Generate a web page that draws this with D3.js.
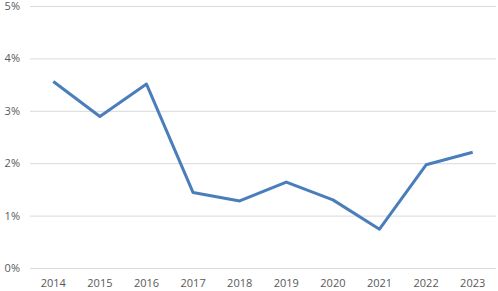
<!DOCTYPE html>
<html>
<head>
<meta charset="utf-8">
<script src="https://cdn.jsdelivr.net/npm/d3@7"></script>
<style>
  body { margin: 0; background: #fff; }
  text { font-family: "Open Sans", "Liberation Sans", sans-serif; fill: #595959; }
</style>
</head>
<body>
<div id="chart"></div>
<script>
// Chart data
const years = ['2014', '2015', '2016', '2017', '2018', '2019', '2020', '2021', '2022', '2023'];
const rates = [3.56, 2.89, 3.51, 1.44, 1.28, 1.64, 1.30, 0.74, 1.97, 2.21];
const yTicks = [0, 1, 2, 3, 4, 5];

const width = 498;
const height = 291;
const margin = { top: 6, right: 2, bottom: 23, left: 30 };

const svg = d3.select('#chart')
  .append('svg')
  .attr('width', width)
  .attr('height', height);

const x = d3.scaleBand()
  .domain(years)
  .range([margin.left, width - margin.right]);

const y = d3.scaleLinear()
  .domain([0, 5])
  .range([height - margin.bottom, margin.top]);

// Gridlines + y labels
const yAxis = d3.axisLeft(y)
  .tickValues(yTicks)
  .tickSize(-(width - margin.left - margin.right))
  .tickPadding(10)
  .tickFormat(d => d + '%');

svg.append('g')
  .attr('transform', `translate(${margin.left},0)`)
  .call(yAxis)
  .call(g => g.select('.domain').remove())
  .call(g => g.selectAll('line').attr('stroke', '#d9d9d9').attr('stroke-width', 1))
  .call(g => g.selectAll('text').attr('font-size', 11).attr('fill', '#595959'));

// X labels
const xAxis = d3.axisBottom(x).tickSize(0).tickPadding(11);

svg.append('g')
  .attr('transform', `translate(0,${height - margin.bottom})`)
  .call(xAxis)
  .call(g => g.select('.domain').remove())
  .call(g => g.selectAll('text').attr('font-size', 11).attr('fill', '#595959'));

// Line
svg.append('path')
  .datum(rates)
  .attr('fill', 'none')
  .attr('stroke', '#4a7ebb')
  .attr('stroke-width', 3)
  .attr('stroke-linejoin', 'round')
  .attr('d', d3.line()
    .x((d, i) => x(years[i]) + x.bandwidth() / 2)
    .y(d => y(d)));
</script>
</body>
</html>
